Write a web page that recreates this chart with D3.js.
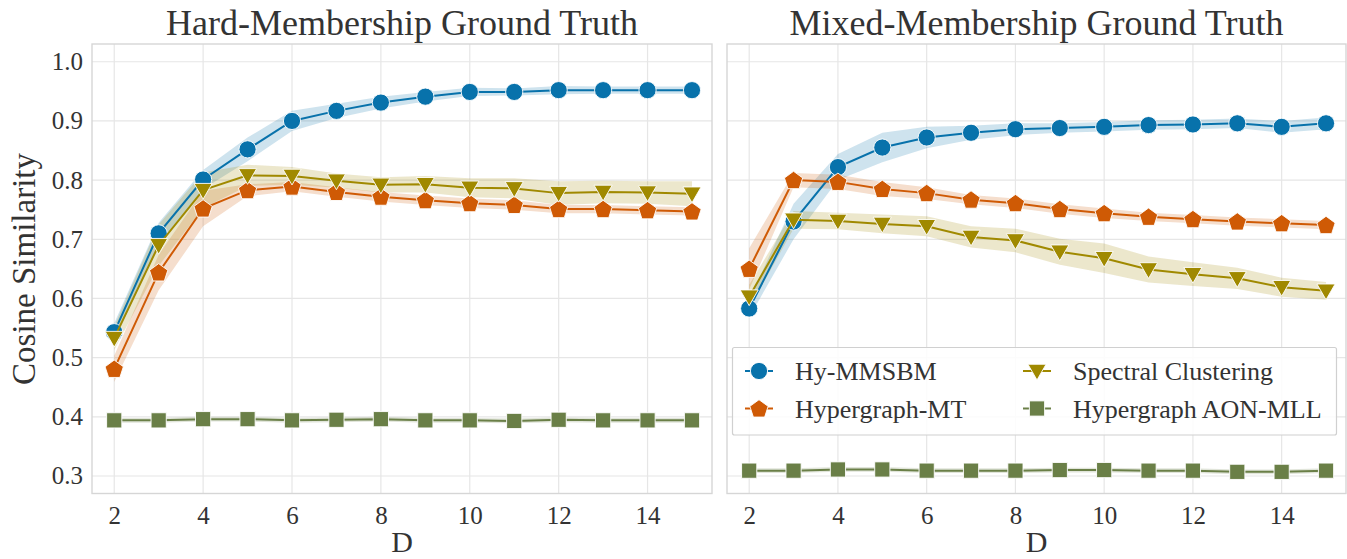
<!DOCTYPE html>
<html><head><meta charset="utf-8">
<script src="https://cdn.jsdelivr.net/npm/d3@7"></script>
<style>body{margin:0;background:#fff}svg{display:block}</style>
</head><body>
<svg id="c" width="1347" height="559"></svg>
<script>
const dims = [2,3,4,5,6,7,8,9,10,11,12,13,14,15];
const seriesNames = ["Hy-MMSBM","Hypergraph-MT","Spectral Clustering","Hypergraph AON-MLL"];
const panelTitles = ["Hard-Membership Ground Truth","Mixed-Membership Ground Truth"];
const yTicks = [0.3,0.4,0.5,0.6,0.7,0.8,0.9,1.0];
const xTicks = [2,4,6,8,10,12,14];

// Hard-membership panel
const hardHy    = [0.543,0.710,0.801,0.852,0.900,0.917,0.931,0.941,0.949,0.949,0.952,0.952,0.952,0.952];
const hardHyCI  = [0.015,0.018,0.016,0.020,0.017,0.012,0.010,0.008,0.007,0.006,0.007,0.006,0.006,0.006];
const hardMT    = [0.481,0.644,0.752,0.783,0.789,0.780,0.772,0.766,0.761,0.758,0.751,0.751,0.749,0.747];
const hardMTCI  = [0.022,0.030,0.030,0.010,0.008,0.008,0.008,0.008,0.008,0.008,0.007,0.007,0.007,0.007];
const hardSC    = [0.533,0.690,0.783,0.808,0.807,0.799,0.792,0.793,0.787,0.786,0.778,0.780,0.779,0.777];
const hardSCCI  = [0.020,0.035,0.030,0.018,0.015,0.012,0.013,0.014,0.016,0.017,0.020,0.019,0.019,0.021];
const hardAON   = [0.394,0.394,0.396,0.396,0.394,0.395,0.396,0.394,0.394,0.393,0.395,0.394,0.394,0.394];
const hardAONCI = [0.004,0.004,0.004,0.004,0.004,0.004,0.004,0.004,0.004,0.004,0.004,0.004,0.004,0.004];

// Mixed-membership panel
const mixHy     = [0.583,0.730,0.822,0.855,0.872,0.880,0.886,0.888,0.890,0.893,0.894,0.896,0.890,0.896];
const mixHyCI   = [0.015,0.030,0.022,0.025,0.018,0.012,0.010,0.008,0.008,0.008,0.008,0.008,0.010,0.010];
const mixMT     = [0.650,0.800,0.797,0.785,0.778,0.767,0.761,0.751,0.744,0.738,0.734,0.730,0.727,0.724];
const mixMTCI   = [0.035,0.012,0.012,0.012,0.010,0.008,0.008,0.008,0.008,0.007,0.007,0.007,0.007,0.007];
const mixSC     = [0.603,0.733,0.731,0.726,0.722,0.704,0.698,0.679,0.668,0.649,0.641,0.634,0.619,0.613];
const mixSCCI   = [0.020,0.015,0.014,0.016,0.017,0.018,0.020,0.022,0.025,0.022,0.020,0.018,0.016,0.015];
const mixAON    = [0.309,0.309,0.311,0.311,0.309,0.309,0.309,0.310,0.310,0.309,0.309,0.307,0.307,0.309];
const mixAONCI  = [0.004,0.004,0.004,0.004,0.004,0.004,0.004,0.004,0.004,0.004,0.004,0.004,0.004,0.004];

const colors = ["#0872ab","#cf5a05","#a08900","#6a7f47"];
const shapes = ["circle","pentagon","triangle","square"];

const panels = [
  {title: panelTitles[0], series: [[hardHy,hardHyCI],[hardMT,hardMTCI],[hardSC,hardSCCI],[hardAON,hardAONCI]], x0: 92, x1: 712, yLabels: true},
  {title: panelTitles[1], series: [[mixHy,mixHyCI],[mixMT,mixMTCI],[mixSC,mixSCCI],[mixAON,mixAONCI]], x0: 727, x1: 1346, yLabels: false}
];

const plotTop = 44, plotBottom = 493.5;
const FONT = "'Liberation Serif', 'DejaVu Serif', serif";
const svg = d3.select("#c");
const y = d3.scaleLinear().domain([0.2704, 1.030]).range([plotBottom, plotTop]);

function markerPath(shape){
  if(shape==="circle"){ const r=8.6; return `M${r},0A${r},${r} 0 1,1 ${-r},0A${r},${r} 0 1,1 ${r},0Z`; }
  if(shape==="pentagon"){ const r=9.6; let p=[]; for(let i=0;i<5;i++){const a=-Math.PI/2+i*2*Math.PI/5; p.push([r*Math.cos(a), r*Math.sin(a)+0.8]);} return "M"+p.map(d=>d.join(",")).join("L")+"Z"; }
  if(shape==="triangle"){ const r=10.5; let p=[]; for(let i=0;i<3;i++){const a=Math.PI/2+i*2*Math.PI/3; p.push([r*Math.cos(a), r*Math.sin(a)-1.5]);} return "M"+p.map(d=>d.join(",")).join("L")+"Z"; }
  const s=7.6; return `M${-s},${-s}L${s},${-s}L${s},${s}L${-s},${s}Z`;
}

panels.forEach((P, pi) => {
  const x = d3.scaleLinear().domain([1.5, 15.45]).range([P.x0, P.x1]);
  const g = svg.append("g");
  g.selectAll(".hg").data(yTicks).enter().append("line")
    .attr("x1",P.x0).attr("x2",P.x1).attr("y1",d=>y(d)).attr("y2",d=>y(d))
    .attr("stroke","#e6e6e6").attr("stroke-width",1.2);
  g.selectAll(".vg").data(xTicks).enter().append("line")
    .attr("x1",d=>x(d)).attr("x2",d=>x(d)).attr("y1",plotTop).attr("y2",plotBottom)
    .attr("stroke","#e6e6e6").attr("stroke-width",1.2);
  g.append("rect").attr("x",P.x0).attr("y",plotTop).attr("width",P.x1-P.x0).attr("height",plotBottom-plotTop)
    .attr("fill","none").attr("stroke","#d6d6d6").attr("stroke-width",1.4);

  P.series.forEach(([vals, ci], si) => {
    const area = d3.area().x((d,i)=>x(dims[i])).y0((d,i)=>y(vals[i]-ci[i])).y1((d,i)=>y(vals[i]+ci[i]));
    g.append("path").attr("d", area(vals)).attr("fill", colors[si]).attr("fill-opacity",0.2).attr("stroke","none");
  });
  P.series.forEach(([vals, ci], si) => {
    const line = d3.line().x((d,i)=>x(dims[i])).y(d=>y(d));
    g.append("path").attr("d", line(vals)).attr("fill","none").attr("stroke",colors[si]).attr("stroke-width",2);
    g.selectAll(null).data(vals).enter().append("path")
      .attr("d", markerPath(shapes[si]))
      .attr("transform",(d,i)=>`translate(${x(dims[i])},${y(d)})`)
      .attr("fill",colors[si]).attr("stroke","#fff").attr("stroke-width",0.9);
  });

  const xa = d3.axisBottom(x).tickValues(xTicks).tickSize(0).tickPadding(13).tickFormat(d3.format("d"));
  const xg = svg.append("g").attr("transform",`translate(0,${plotBottom})`).call(xa);
  xg.select(".domain").remove();
  xg.selectAll("text").attr("font-family",FONT).attr("font-size",25).attr("fill","#333");
  svg.append("text").attr("x",(P.x0+P.x1)/2).attr("y",552).attr("text-anchor","middle")
    .attr("font-family",FONT).attr("font-size",30).attr("fill","#333").text("D");
  svg.append("text").attr("x",(P.x0+P.x1)/2).attr("y",35).attr("text-anchor","middle")
    .attr("font-family",FONT).attr("font-size",36).attr("fill","#333").text(P.title);

  if(P.yLabels){
    const ya = d3.axisLeft(y).tickValues(yTicks).tickSize(0).tickPadding(9).tickFormat(d3.format(".1f"));
    const yg = svg.append("g").attr("transform",`translate(${P.x0},0)`).call(ya);
    yg.select(".domain").remove();
    yg.selectAll("text").attr("font-family",FONT).attr("font-size",25).attr("fill","#333");
    svg.append("text").attr("transform",`translate(35,269) rotate(-90)`).attr("text-anchor","middle")
      .attr("font-family",FONT).attr("font-size",33).attr("fill","#333").text("Cosine Similarity");
  }

  if(pi===1){
    const lg = svg.append("g");
    lg.append("rect").attr("x",732.5).attr("y",347.5).attr("width",604).attr("height",87.5)
      .attr("fill","#fff").attr("fill-opacity",0.85).attr("stroke","#d0d0d0").attr("stroke-width",1.2).attr("rx",2);
    const pos = [[759,371],[759,408.5],[1037,371],[1037,408.5]];
    seriesNames.forEach((nm, si) => {
      const [cx, cy] = pos[si];
      lg.append("line").attr("x1",cx-14).attr("x2",cx+14).attr("y1",cy).attr("y2",cy).attr("stroke",colors[si]).attr("stroke-width",2);
      lg.append("path").attr("d",markerPath(shapes[si])).attr("transform",`translate(${cx},${cy})`)
        .attr("fill",colors[si]).attr("stroke","#fff").attr("stroke-width",0.9);
      lg.append("text").attr("x",cx+36).attr("y",cy+9).attr("font-family",FONT).attr("font-size",26).attr("fill","#333").text(nm);
    });
  }
});
</script>
</body></html>
